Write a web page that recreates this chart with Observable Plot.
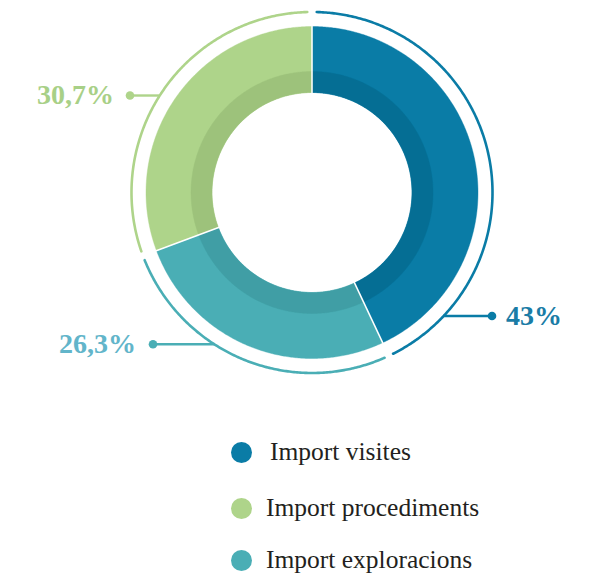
<!DOCTYPE html>
<html><head><meta charset="utf-8">
<script src="https://cdn.jsdelivr.net/npm/d3@7"></script>
<script src="https://cdn.jsdelivr.net/npm/@observablehq/plot@0.6"></script>
<style>
html,body{margin:0;padding:0;background:#fff;}
#chart{width:599px;height:575px;position:relative;overflow:hidden;}
#chart svg{position:absolute;left:0;top:0;}
.legend{position:absolute;left:0;top:0;width:599px;height:575px;font-family:"Liberation Serif",serif;color:#231f20;font-size:25.5px;pointer-events:none;}
.row{position:absolute;display:flex;align-items:center;height:28px;white-space:nowrap;}
.sw{width:21px;height:21px;border-radius:50%;flex:none;}
</style></head>
<body><div id="chart"></div>
<script>
// ---- data ----
const categories = ["Import visites", "Import procediments", "Import exploracions"];
const shares = [43, 30.7, 26.3];
const shareLabels = ["43%", "30,7%", "26,3%"];
// clockwise order of slices from 12 o'clock
const sliceOrder = ["Import visites", "Import exploracions", "Import procediments"];

// ---- styles ----
const mainColor = {"Import visites": "#0a7ca6", "Import procediments": "#aed48a", "Import exploracions": "#4aaeb5"};
const darkColor = {"Import visites": "#056e94", "Import procediments": "#9dc27b", "Import exploracions": "#409ea5"};
const labelColor = {"Import visites": "#1a7ca6", "Import procediments": "#a8d087", "Import exploracions": "#62b5ca"};

// ---- layout ----
const W = 599, H = 400, CX = 311.5, CY = 192;
const R_IN = 100, R_MID = 121, R_OUT = 166, R_ARC = 180.5, ARC_PAD = 1.5 * Math.PI / 180;
const leader = {
  "Import visites": {angle: 133.2, dotX: 180, textDx: 14, anchor: "start"},
  "Import exploracions": {angle: 212.8, dotX: -159, textDx: -17, anchor: "end"},
  "Import procediments": {angle: 302.5, dotX: -182, textDx: -16, anchor: "end"}
};

const table = categories.map((c, i) => ({key: c, value: shares[i], label: shareLabels[i]}));
const ordered = sliceOrder.map(k => table.find(d => d.key === k));
const arcs = d3.pie().sort(null).value(d => d.value)(ordered);

const pt = (r, a) => ({x: r * Math.sin(a), y: -r * Math.cos(a)});
function arcPts(a0, a1, r) {
  const n = Math.max(2, Math.ceil((a1 - a0) / (Math.PI / 360)));
  return d3.range(n + 1).map(i => pt(r, a0 + (a1 - a0) * i / n));
}
function ringPts(a0, a1, r0, r1) {
  return [...arcPts(a0, a1, r1), ...arcPts(a0, a1, r0).reverse()];
}

const marks = [];
for (const s of arcs) {
  const k = s.data.key;
  marks.push(Plot.line(ringPts(s.startAngle, s.endAngle, R_IN, R_OUT), {x: "x", y: "y", fill: mainColor[k], stroke: mainColor[k], strokeWidth: 0.4}));
}
for (const s of arcs) {
  const k = s.data.key;
  marks.push(Plot.line(ringPts(s.startAngle, s.endAngle, R_IN, R_MID), {x: "x", y: "y", fill: darkColor[k], stroke: darkColor[k], strokeWidth: 0.4}));
}
// white separators
const seps = arcs.map(s => ({a: pt(R_IN - 1, s.startAngle), b: pt(R_OUT + 1, s.startAngle)}));
marks.push(Plot.link(seps, {x1: d => d.a.x, y1: d => d.a.y, x2: d => d.b.x, y2: d => d.b.y, stroke: "white", strokeWidth: 1.5}));
// outer thin arcs
for (const s of arcs) {
  const k = s.data.key;
  marks.push(Plot.line(arcPts(s.startAngle + ARC_PAD, s.endAngle - ARC_PAD, R_ARC), {x: "x", y: "y", stroke: mainColor[k], strokeWidth: 2.6}));
}
// leaders + labels
const lead = arcs.map(s => {
  const k = s.data.key, L = leader[k];
  const p = pt(R_ARC, L.angle * Math.PI / 180);
  return {key: k, label: s.data.label, x0: p.x, y: p.y, x1: L.dotX, tx: L.dotX + L.textDx, anchor: L.anchor};
});
marks.push(Plot.link(lead, {x1: "x0", y1: "y", x2: "x1", y2: "y", stroke: d => mainColor[d.key], strokeWidth: 2.4}));
marks.push(Plot.dot(lead, {x: "x1", y: "y", r: 4.3, fill: d => mainColor[d.key], stroke: "none"}));
for (const d of lead) {
  marks.push(Plot.text([d], {x: "tx", y: "y", text: "label", textAnchor: d.anchor, fill: labelColor[d.key],
    fontFamily: "Liberation Serif", fontWeight: "bold", fontSize: 28}));
}

const chart = Plot.plot({
  width: W, height: H,
  margin: 0,
  x: {type: "linear", domain: [-CX, W - CX], range: [0, W], axis: null},
  y: {type: "linear", domain: [-CY, H - CY], range: [0, H], axis: null},
  color: {type: "identity"},
  style: {background: "white", overflow: "visible"},
  marks
});
const root = document.getElementById("chart");
root.appendChild(chart);

// ---- legend ----
const legendRows = [
  {top: 438, left: 231, gap: 18},
  {top: 494, left: 231, gap: 14},
  {top: 546, left: 231, gap: 14}
];
const legend = document.createElement("div");
legend.className = "legend";
categories.forEach((c, i) => {
  const row = document.createElement("div");
  row.className = "row";
  row.style.top = legendRows[i].top + "px";
  row.style.left = legendRows[i].left + "px";
  const sw = document.createElement("span");
  sw.className = "sw";
  sw.style.background = mainColor[c];
  const tx = document.createElement("span");
  tx.textContent = c;
  tx.style.marginLeft = legendRows[i].gap + "px";
  row.appendChild(sw); row.appendChild(tx);
  legend.appendChild(row);
});
root.appendChild(legend);
</script>
</body></html>
